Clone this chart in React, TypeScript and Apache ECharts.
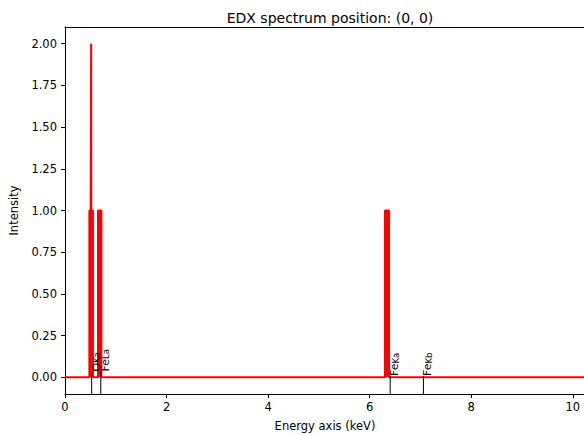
import React, { useEffect, useRef } from "react";
import * as echarts from "echarts";

// Spectrum (keV, intensity) outline points
const energy = [0, 0.48, 0.48, 0.505, 0.513, 0.515, 0.517, 0.525, 0.55, 0.55, 0.65, 0.65, 0.715, 0.715, 6.3, 6.3, 6.38, 6.38, 10.24];
const intensity = [0, 0, 1, 1, 1, 2, 1, 1, 1, 0, 0, 1, 1, 0, 0, 1, 1, 0, 0];

// X-ray line markers
const lineNames = ["O", "Fe", "Fe", "Fe"];
const lineSubs = ["Ka", "La", "Ka", "Kb"];
const lineEnergy = [0.5249, 0.7048, 6.4039, 7.058];
const lineTop = [0.035, 0.035, 0.008, 0.008];

const xTicks = [0, 2, 4, 6, 8, 10];
const yTicks = [0, 0.25, 0.5, 0.75, 1.0, 1.25, 1.5, 1.75, 2.0];

const FONT = "DejaVu Sans";

export default function App() {
  const ref = useRef<HTMLDivElement>(null);
  useEffect(() => {
    if (!ref.current) return;
    const chart = echarts.init(ref.current, undefined, { renderer: "svg" });
    const spec = energy.map((e, i) => [e, intensity[i]]);
    const markers = lineEnergy.map((e, i) => [e, lineTop[i], i]);
    const axisLine = { show: true, lineStyle: { color: "#000", width: 1 } };
    chart.setOption({
      animation: false,
      backgroundColor: "#fff",
      title: {
        text: "EDX spectrum position: (0, 0)",
        left: 325,
        top: 6,
        textAlign: "center",
        textStyle: { fontFamily: FONT, fontSize: 14, fontWeight: "normal", color: "#000" },
      },
      grid: { left: 65, right: -1, top: 27, bottom: 41, containLabel: false, outerBoundsMode: "none" },
      xAxis: [
        {
          type: "value",
          min: 0,
          max: 10.24,
          interval: 2,
          name: "Energy axis (keV)",
          nameLocation: "middle",
          nameGap: 26,
          nameTextStyle: { fontFamily: FONT, fontSize: 11.5, color: "#000" },
          axisLine: { ...axisLine, onZero: false },
          axisTick: { show: true, length: 4, inside: false, customValues: xTicks, lineStyle: { color: "#000" } },
          axisLabel: {
            customValues: xTicks,
            fontFamily: FONT,
            fontSize: 11.5,
            color: "#000",
            margin: 7,
          },
          splitLine: { show: false },
        },
        {
          type: "value",
          position: "top",
          min: 0,
          max: 10.24,
          axisLine: { ...axisLine, onZero: false },
          axisTick: { show: false },
          axisLabel: { show: false },
          splitLine: { show: false },
        },
      ],
      yAxis: {
        type: "value",
        min: -0.1,
        max: 2.1,
        name: "Intensity",
        nameLocation: "middle",
        nameGap: 43,
        nameTextStyle: { fontFamily: FONT, fontSize: 11.5, color: "#000" },
        axisLine: { ...axisLine, onZero: false },
        axisTick: { show: true, length: 4, customValues: yTicks, lineStyle: { color: "#000" } },
        axisLabel: {
          customValues: yTicks,
          formatter: (v: number) => v.toFixed(2),
          fontFamily: FONT,
          fontSize: 11.5,
          color: "#000",
          margin: 8,
        },
        splitLine: { show: false },
      },
      series: [
        {
          type: "line",
          data: spec,
          showSymbol: false,
          symbol: "none",
          lineStyle: { color: "#ff0000", width: 2 },
          areaStyle: { color: "#ff0000", opacity: 1, origin: 0 },
          z: 2,
        },
        {
          type: "custom",
          data: markers,
          z: 3,
          renderItem: (params: any, api: any) => {
            const e = api.value(0);
            const top = api.value(1);
            const idx = api.value(2);
            const p0 = api.coord([e, -0.1]);
            const p1 = api.coord([e, top]);
            return {
              type: "group",
              children: [
                {
                  type: "line",
                  shape: { x1: p0[0], y1: p0[1], x2: p1[0], y2: p1[1] },
                  style: { stroke: "#000", lineWidth: 1 },
                },
                {
                  type: "text",
                  x: p1[0] - 1,
                  y: p1[1],
                  rotation: Math.PI / 2,
                  style: {
                    text: `{a|${lineNames[idx]}}{b|${lineSubs[idx]}}`,
                    align: "left",
                    verticalAlign: "top",
                    rich: {
                      a: { fontFamily: FONT, fontSize: 11, fill: "#000", verticalAlign: "top" },
                      b: { fontFamily: FONT, fontSize: 8.5, fill: "#000", verticalAlign: "bottom" },
                    },
                  },
                },
              ],
            };
          },
        },
      ],
    });
    return () => chart.dispose();
  }, []);
  return (
    <div
      ref={ref}
      style={{ position: "fixed", left: 0, top: 0, width: 584, height: 435 }}
    />
  );
}
